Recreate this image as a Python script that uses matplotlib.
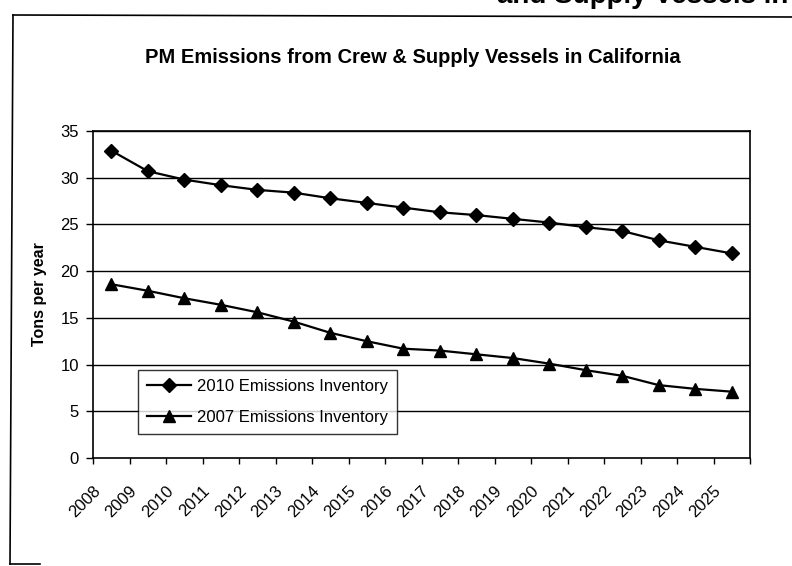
import matplotlib
matplotlib.use("Agg")
import matplotlib.pyplot as plt
from matplotlib.lines import Line2D
from matplotlib.transforms import ScaledTranslation

plt.rcParams["font.family"] = ["Liberation Sans", "DejaVu Sans"]

# Category axis and the two emission inventories (tons per year)
years = [str(y) for y in range(2008, 2026)]
inv_2010 = [32.9, 30.7, 29.8, 29.2, 28.7, 28.4, 27.8, 27.3, 26.8,
            26.3, 26.0, 25.6, 25.2, 24.7, 24.3, 23.3, 22.6, 21.9]
inv_2007 = [18.6, 17.9, 17.1, 16.4, 15.6, 14.6, 13.4, 12.5, 11.7,
            11.5, 11.1, 10.7, 10.1, 9.4, 8.8, 7.8, 7.4, 7.1]
series_names = ["2010 Emissions Inventory", "2007 Emissions Inventory"]
y_ticks = [0, 5, 10, 15, 20, 25, 30, 35]

W, H = 792, 566
fig = plt.figure(figsize=(W / 100, H / 100), dpi=100)
fig.patch.set_facecolor("white")

# plot area in pixel terms
L, R, T, B = 93, 750, 131, 458
ax = fig.add_axes([L / W, 1 - B / H, (R - L) / W, (B - T) / H])

x = list(range(len(years)))
ax.plot(x, inv_2010, color="black", lw=1.6, marker="D", ms=7,
        mfc="black", mec="black", label=series_names[0], zorder=3)
ax.plot(x, inv_2007, color="black", lw=1.6, marker="^", ms=8,
        mfc="black", mec="black", label=series_names[1], zorder=3)

ax.set_xlim(-0.5, len(years) - 0.5)
ax.set_ylim(0, 35)
ax.set_yticks(y_ticks)
ax.set_yticklabels([str(v) for v in y_ticks], fontsize=12)
for v in y_ticks[1:]:
    ax.axhline(v, color="black", lw=1.0, zorder=1)

# category labels sit on the boundary ticks
bounds = [i - 0.5 for i in range(len(years) + 1)]
ax.set_xticks(bounds)
ax.set_xticklabels(years + [""], fontsize=12, rotation=45,
                   ha="right", va="center", rotation_mode="anchor")
ax.tick_params(axis="x", direction="out", length=4, width=1, pad=18)
ax.tick_params(axis="y", direction="out", length=5, width=1, pad=5)
shift = ScaledTranslation(5 / 100, 0, fig.dpi_scale_trans)
for lab in ax.get_xticklabels():
    lab.set_transform(lab.get_transform() + shift)

for s in ax.spines.values():
    s.set_color("black")
    s.set_linewidth(1.2)

ax.set_ylabel("Tons per year", fontsize=11.5, fontweight="bold", labelpad=10)

fig.text(413 / W, 1 - 63 / H,
         "PM Emissions from Crew & Supply Vessels in California",
         fontsize=14.5, fontweight="bold", ha="center", va="baseline")

leg = ax.legend(loc="upper left",
                bbox_to_anchor=((138 - L) / (R - L), (B - 370) / (B - T)),
                fontsize=12, frameon=True, fancybox=False, shadow=False,
                handlelength=2.6, handletextpad=0.4, borderpad=0.55,
                labelspacing=0.95, borderaxespad=0)
leg.get_frame().set_edgecolor("black")
leg.get_frame().set_linewidth(1.0)
leg.set_zorder(5)

# page frame around the chart and the clipped page heading
frame = dict(color="black", lw=1.2, transform=fig.transFigure)
fig.add_artist(Line2D([13 / W, 1.0], [1 - 15 / H, 1 - 17 / H], **frame))
fig.add_artist(Line2D([13 / W, 10 / W], [1 - 15 / H, 1 - 564 / H], **frame))
fig.add_artist(Line2D([10 / W, 40 / W], [1 - 564 / H, 1 - 564 / H], **frame))
fig.text(497 / W, 1 - 3 / H, "and Supply Vessels in", fontsize=20,
         fontweight="bold", ha="left", va="baseline")

fig.savefig("out.png", dpi=100)
